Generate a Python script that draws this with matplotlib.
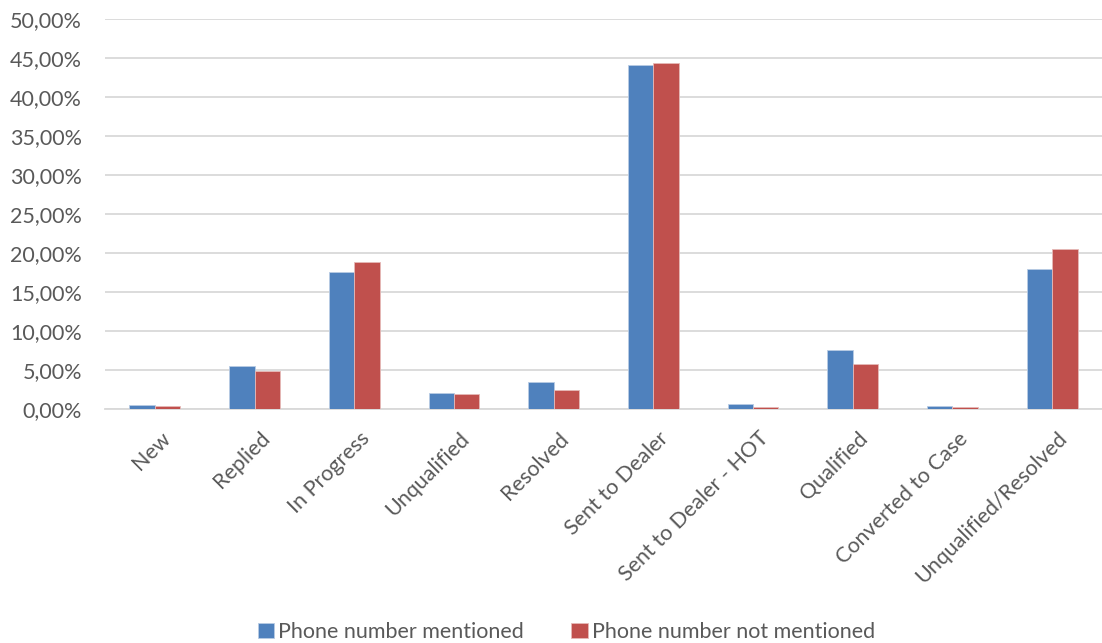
import matplotlib
matplotlib.use("Agg")
import matplotlib.pyplot as plt
from matplotlib.ticker import FuncFormatter
from matplotlib.transforms import ScaledTranslation
import numpy as np

plt.rcParams["font.family"] = ["Lato", "DejaVu Sans"]

categories = ["New", "Replied", "In Progress", "Unqualified", "Resolved",
              "Sent to Dealer", "Sent to Dealer - HOT", "Qualified",
              "Converted to Case", "Unqualified/Resolved"]
phone_mentioned = [0.50, 5.47, 17.50, 2.05, 3.46, 44.15, 0.69, 7.56, 0.44, 17.90]
phone_not_mentioned = [0.35, 4.83, 18.85, 1.96, 2.40, 44.36, 0.30, 5.82, 0.22, 20.56]
series_names = ["Phone number mentioned", "Phone number not mentioned"]

BLUE = "#4F81BD"
RED = "#C0504D"
GRID = "#D9D9D9"
TEXT = "#595959"
FS = 15.5

fig = plt.figure(figsize=(11.02, 6.43), dpi=100)
ax = fig.add_axes([0.0953, 0.364, 0.9047, 0.6065])

x = np.arange(len(categories))
w = 0.255
ax.bar(x - w / 2, phone_mentioned, w, color=BLUE, edgecolor="#B8CCE4",
       linewidth=0.6, label=series_names[0], zorder=3)
ax.bar(x + w / 2, phone_not_mentioned, w, color=RED, edgecolor="#E6B9B8",
       linewidth=0.6, label=series_names[1], zorder=3)

ax.set_xlim(-0.5, len(categories) - 0.5)
ax.set_ylim(0, 50)
ax.set_yticks(np.arange(0, 51, 5))
ax.yaxis.set_major_formatter(FuncFormatter(lambda v, _: f"{v:.2f}%".replace(".", ",")))
ax.grid(axis="y", color=GRID, linewidth=1.3, zorder=0)
for s in ("top", "right", "left"):
    ax.spines[s].set_visible(False)
ax.spines["bottom"].set_color(GRID)
ax.spines["bottom"].set_linewidth(1.3)
ax.tick_params(axis="both", length=0, labelsize=FS, colors=TEXT)
ax.tick_params(axis="y", pad=16.5)

# category labels at 45 degrees, top-right end just right of the tick
ax.set_xticks(x)
ax.set_xticklabels(categories, rotation=45, ha="right", va="top",
                   rotation_mode="anchor")
ax.tick_params(axis="x", pad=14)
shift = ScaledTranslation(5 / 100, 0, fig.dpi_scale_trans)
for lab in ax.get_xticklabels():
    lab.set_transform(lab.get_transform() + shift)

fig.legend(loc="center", bbox_to_anchor=(0.514, 0.017), ncol=2,
           frameon=False, fontsize=FS, handlelength=0.75, handleheight=0.75,
           handletextpad=0.2, columnspacing=2.2, labelcolor=TEXT,
           borderpad=0, borderaxespad=0)

fig.savefig("out.png", dpi=100)
